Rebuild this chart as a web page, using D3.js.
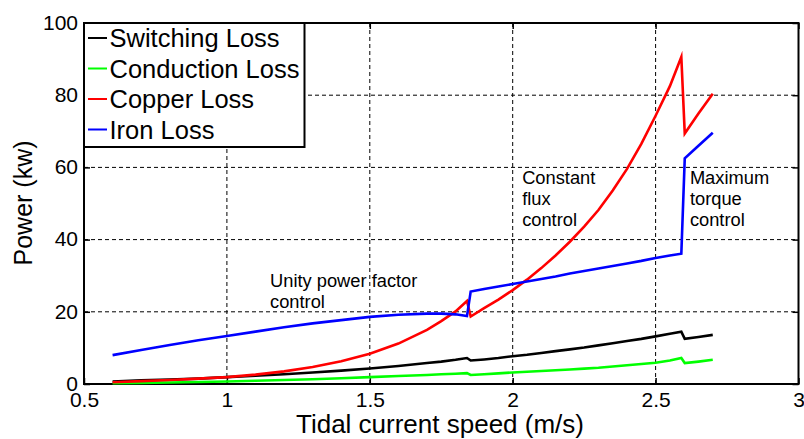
<!DOCTYPE html>
<html>
<head>
<meta charset="utf-8">
<script src="https://cdn.jsdelivr.net/npm/d3@7"></script>
<style>
  html, body { margin: 0; padding: 0; background: #fff; }
  svg { display: block; font-family: "Liberation Sans", Arial, sans-serif; }
</style>
</head>
<body>
<svg id="chart" width="804" height="439"></svg>
<script>
// ---- data ----
const speeds = [0.6, 0.7, 0.8, 0.9, 1.0, 1.1, 1.2, 1.3, 1.4, 1.5, 1.6, 1.7, 1.75, 1.8, 1.84, 1.853, 1.9, 1.95, 2.0, 2.05, 2.1, 2.15, 2.2, 2.25, 2.3, 2.35, 2.4, 2.45, 2.5, 2.55, 2.59, 2.602, 2.65, 2.7];
const switchingLoss = [0.7, 1.0, 1.2, 1.5, 1.9, 2.3, 2.7, 3.2, 3.7, 4.3, 5.0, 5.8, 6.2, 6.7, 7.2, 6.5, 6.8, 7.2, 7.7, 8.1, 8.6, 9.1, 9.6, 10.1, 10.7, 11.3, 11.9, 12.5, 13.2, 13.9, 14.5, 12.5, 13.0, 13.6];
const conductionLoss = [0.2, 0.3, 0.4, 0.55, 0.7, 0.9, 1.1, 1.3, 1.6, 1.9, 2.2, 2.5, 2.7, 2.85, 3.0, 2.5, 2.7, 2.95, 3.2, 3.4, 3.6, 3.8, 4.0, 4.25, 4.5, 4.85, 5.2, 5.55, 5.9, 6.5, 7.2, 5.8, 6.2, 6.7];
const copperLoss = [0.5, 0.8, 1.1, 1.5, 1.9, 2.6, 3.5, 4.7, 6.3, 8.4, 11.2, 15.0, 17.4, 20.1, 23.0, 18.7, 21.0, 23.4, 26.0, 28.9, 32.1, 35.6, 39.4, 43.6, 48.2, 53.6, 59.6, 66.5, 74.3, 82.5, 90.6, 69.4, 74.9, 80.4];
const ironLoss = [8.0, 9.4, 10.8, 12.1, 13.3, 14.5, 15.7, 16.8, 17.7, 18.6, 19.2, 19.5, 19.5, 19.3, 18.8, 25.6, 26.3, 27.0, 27.7, 28.4, 29.1, 29.8, 30.6, 31.3, 32.0, 32.7, 33.4, 34.1, 34.9, 35.6, 36.1, 62.5, 66.0, 69.6];
const seriesNames = ["Switching Loss", "Conduction Loss", "Copper Loss", "Iron Loss"];
const seriesColors = ["#000000", "#00ff00", "#ff0000", "#0000ff"];
const xTicks = [0.5, 1, 1.5, 2, 2.5, 3];
const xTickLabels = ["0.5", "1", "1.5", "2", "2.5", "3"];
const yTicks = [0, 20, 40, 60, 80, 100];
const annotations = [
  { x: 1.151, y: 26.9, lines: ["Unity power factor", "control"] },
  { x: 2.033, y: 55.4, lines: ["Constant", "flux", "control"] },
  { x: 2.62, y: 55.4, lines: ["Maximum", "torque", "control"] }
];

const seriesValues = [switchingLoss, conductionLoss, copperLoss, ironLoss];

// ---- layout ----
const svg = d3.select("#chart");
const L = 84, R = 798.5, T = 23, B = 384;
const x = d3.scaleLinear().domain([0.5, 3]).range([L, R]);
const y = d3.scaleLinear().domain([0, 100]).range([B, T]);

// grid
const grid = svg.append("g");
grid.selectAll("line.gx").data(xTicks.slice(1, -1)).enter().append("line")
  .attr("x1", d => x(d)).attr("x2", d => x(d)).attr("y1", T).attr("y2", B)
  .attr("stroke", "#000").attr("stroke-width", 1).attr("stroke-dasharray", "4,3");
grid.selectAll("line.gy").data(yTicks.slice(1, -1)).enter().append("line")
  .attr("x1", L).attr("x2", R).attr("y1", d => y(d)).attr("y2", d => y(d))
  .attr("stroke", "#000").attr("stroke-width", 1).attr("stroke-dasharray", "4,3");

// axes
const xAxisB = d3.axisBottom(x).tickValues(xTicks).tickSizeInner(-6).tickSizeOuter(0).tickPadding(8)
  .tickFormat((d, i) => xTickLabels[i]);
const gx = svg.append("g").attr("transform", `translate(0,${B})`).call(xAxisB);
gx.select(".domain").remove();
gx.selectAll("text").attr("font-size", 21).attr("fill", "#000").attr("font-family", "Liberation Sans, Arial, sans-serif").attr("dy", "0.72em");
gx.selectAll("line").attr("stroke-width", 1.5);

const xAxisT = d3.axisTop(x).tickValues(xTicks).tickSizeInner(-6).tickSizeOuter(0).tickFormat("");
const gxt = svg.append("g").attr("transform", `translate(0,${T})`).call(xAxisT);
gxt.select(".domain").remove();
gxt.selectAll("line").attr("stroke-width", 1.5);

const yAxisL = d3.axisLeft(y).tickValues(yTicks).tickSizeInner(-6).tickSizeOuter(0).tickPadding(6);
const gy = svg.append("g").attr("transform", `translate(${L},0)`).call(yAxisL);
gy.select(".domain").remove();
gy.selectAll("text").attr("font-size", 21).attr("fill", "#000").attr("font-family", "Liberation Sans, Arial, sans-serif").attr("dy", "0.3em");
gy.selectAll("line").attr("stroke-width", 1.5);

const yAxisR = d3.axisRight(y).tickValues(yTicks).tickSizeInner(-6).tickSizeOuter(0).tickFormat("");
const gyr = svg.append("g").attr("transform", `translate(${R},0)`).call(yAxisR);
gyr.select(".domain").remove();
gyr.selectAll("line").attr("stroke-width", 1.5);

// frame
svg.append("rect").attr("x", L).attr("y", T).attr("width", R - L).attr("height", B - T)
  .attr("fill", "none").attr("stroke", "#000").attr("stroke-width", 2);

// lines
const line = d3.line().x((d, i) => x(speeds[i])).y(d => y(d));
seriesValues.forEach((vals, k) => {
  svg.append("path").datum(vals).attr("d", line)
    .attr("fill", "none").attr("stroke", seriesColors[k]).attr("stroke-width", 2.6)
    .attr("stroke-linejoin", "miter").attr("stroke-miterlimit", 10);
});

// annotations
annotations.forEach(a => {
  const t = svg.append("text").attr("x", x(a.x)).attr("y", y(a.y))
    .attr("font-size", 18.3).attr("fill", "#000");
  a.lines.forEach((ln, i) => {
    t.append("tspan").attr("x", x(a.x)).attr("dy", i === 0 ? 0 : 21).text(ln);
  });
});

// legend
const lg = svg.append("g");
lg.append("rect").attr("x", L).attr("y", T).attr("width", 220.5).attr("height", 124)
  .attr("fill", "#fff").attr("stroke", "#000").attr("stroke-width", 2);
seriesNames.forEach((name, i) => {
  const cy = 38 + i * 30.5;
  lg.append("line").attr("x1", 88).attr("x2", 107).attr("y1", cy).attr("y2", cy)
    .attr("stroke", seriesColors[i]).attr("stroke-width", 2);
  lg.append("text").attr("x", 109.5).attr("y", cy + 9).attr("font-size", 25.5)
    .attr("fill", "#000").text(name);
});

// axis titles
svg.append("text").attr("x", 440).attr("y", 433).attr("text-anchor", "middle")
  .attr("font-size", 26).attr("fill", "#000").text("Tidal current speed (m/s)");
svg.append("text").attr("transform", `translate(32,203) rotate(-90)`).attr("text-anchor", "middle")
  .attr("font-size", 25).attr("fill", "#000").text("Power (kw)");
</script>
</body>
</html>
